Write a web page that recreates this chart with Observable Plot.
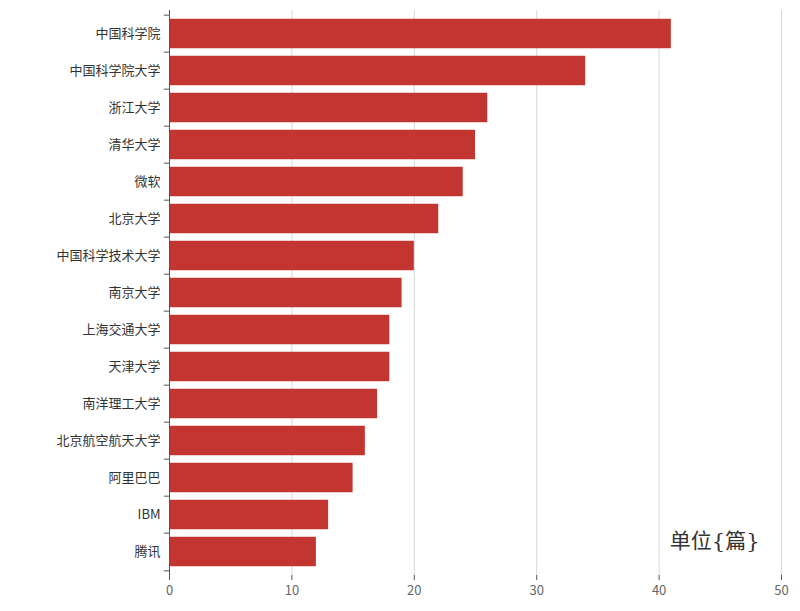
<!DOCTYPE html>
<html>
<head>
<meta charset="utf-8">
<script src="https://cdn.jsdelivr.net/npm/d3@7"></script>
<script src="https://cdn.jsdelivr.net/npm/@observablehq/plot@0.6"></script>
<style>
  html, body { margin: 0; padding: 0; background: #fff; }
  svg { display: block; }
</style>
</head>
<body>
<div id="chart"></div>
<script>
const categories = ["中国科学院","中国科学院大学","浙江大学","清华大学","微软","北京大学","中国科学技术大学","南京大学","上海交通大学","天津大学","南洋理工大学","北京航空航天大学","阿里巴巴","IBM","腾讯"];
const values = [41, 34, 26, 25, 24, 22, 20, 19, 18, 18, 17, 16, 15, 13, 12];
const xTicks = [0, 10, 20, 30, 40, 50];
const unitLabel = "单位{篇}";

const data = categories.map((c, i) => ({name: c, value: values[i]}));

const W = 800, H = 611;
const mt = 10, mb = 36, ml = 169, mr = 19;
const step = (H - mt - mb) / categories.length;
const inset = step * 0.1;
const font = "'Noto Sans CJK SC', 'Noto Sans', sans-serif";

const chart = Plot.plot({
  width: W,
  height: H,
  marginTop: mt,
  marginBottom: mb,
  marginLeft: ml,
  marginRight: mr,
  style: {fontFamily: font, fontSize: "12px", color: "#333", background: "#fff"},
  x: {domain: [0, 50], ticks: xTicks},
  y: {domain: categories, padding: 0},
  marks: [
    Plot.gridX(xTicks.filter(d => d > 0), {stroke: "#d8d8d8", strokeOpacity: 1, strokeWidth: 1}),
    Plot.barX(data, {x: "value", y: "name", fill: "#c23531", insetTop: inset, insetBottom: inset}),
    Plot.ruleX([0], {stroke: "#555", strokeWidth: 1}),
    Plot.ruleY(categories, {y: d => d, x1: -0.42, x2: 0, dy: -step / 2, stroke: "#555", clip: false}),
    Plot.ruleY([categories[categories.length - 1]], {y: d => d, x1: -0.42, x2: 0, dy: step / 2, stroke: "#555", clip: false}),
    Plot.axisY({tickSize: 0, tickPadding: 9, fontSize: 13, fill: "#333", label: null}),
    Plot.axisX({ticks: xTicks, tickSize: 5, tickPadding: 5, fontSize: 13, fill: "#666", stroke: "#555", label: null}),
    Plot.ruleY([0], {frameAnchor: "bottom", stroke: "#555"}),
    Plot.text([unitLabel], {
      text: d => d,
      frameAnchor: "bottom-right",
      textAnchor: "end",
      lineAnchor: "bottom",
      dx: -22,
      dy: -28,
      fontSize: 21,
      fill: "#333",
      fontFamily: "'DejaVu Serif', 'Liberation Serif', 'Noto Sans CJK SC', serif"
    })
  ]
});

document.getElementById("chart").appendChild(chart);
</script>
</body>
</html>
